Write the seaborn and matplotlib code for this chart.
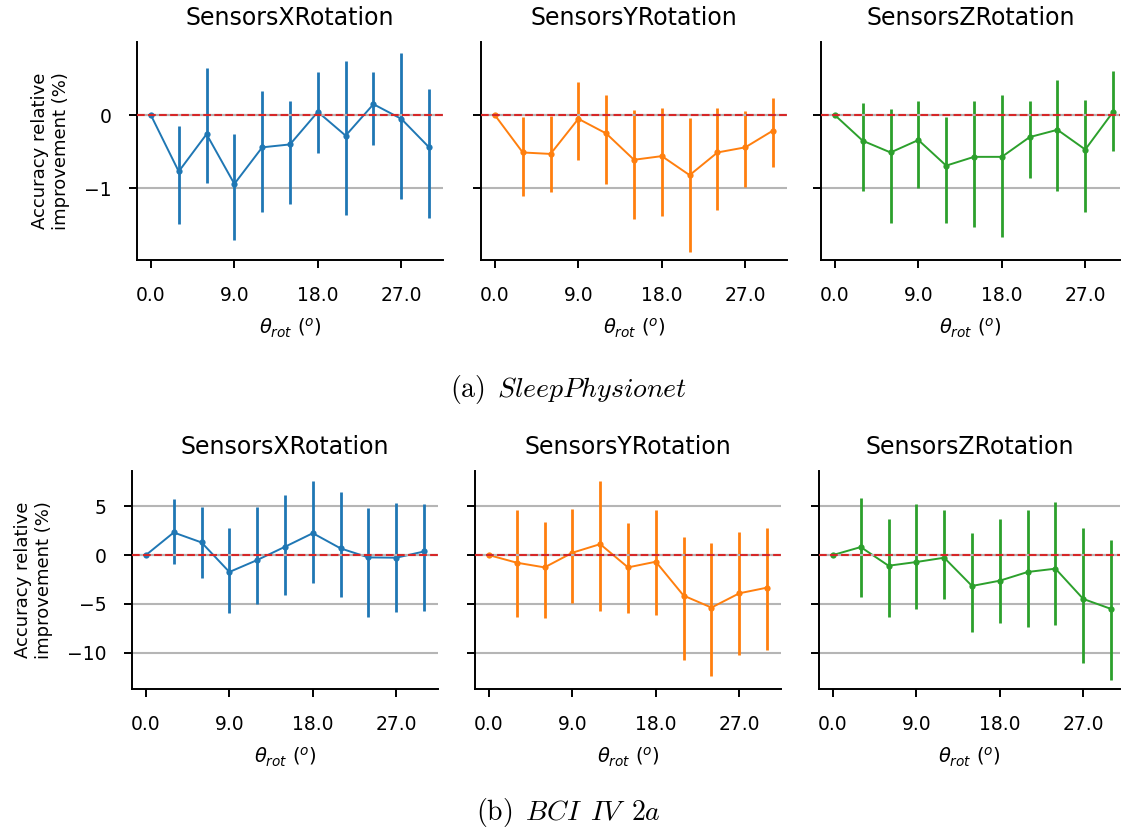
import matplotlib.pyplot as plt
import seaborn as sns

# rotation angles (degrees) and the three transforms
angles = [0, 3, 6, 9, 12, 15, 18, 21, 24, 27, 30]
transforms = ['SensorsXRotation', 'SensorsYRotation', 'SensorsZRotation']
colors = ['#1f77b4', '#ff7f0e', '#2ca02c']

# (a) SleepPhysionet : median + error bar limits
sleep_x_mean = [0, -0.77, -0.26, -0.94, -0.44, -0.40, 0.045, -0.28, 0.15, -0.05, -0.44]
sleep_x_low = [0, -1.49, -0.93, -1.70, -1.32, -1.21, -0.52, -1.36, -0.41, -1.15, -1.40]
sleep_x_high = [0, -0.15, 0.65, -0.26, 0.33, 0.20, 0.59, 0.74, 0.59, 0.85, 0.36]

sleep_y_mean = [0, -0.51, -0.53, -0.05, -0.25, -0.61, -0.56, -0.82, -0.51, -0.44, -0.21]
sleep_y_low = [0, -1.11, -1.05, -0.61, -0.94, -1.42, -1.38, -1.87, -1.30, -0.98, -0.71]
sleep_y_high = [0, -0.03, -0.01, 0.45, 0.28, 0.07, 0.10, -0.04, 0.10, 0.05, 0.24]

sleep_z_mean = [0, -0.35, -0.51, -0.34, -0.69, -0.57, -0.57, -0.30, -0.20, -0.47, 0.045]
sleep_z_low = [0, -1.04, -1.47, -0.99, -1.48, -1.53, -1.67, -0.86, -1.04, -1.32, -0.49]
sleep_z_high = [0, 0.17, 0.09, 0.20, -0.03, 0.20, 0.27, 0.19, 0.48, 0.21, 0.60]

# (b) BCI IV 2a
bci_x_mean = [0, 2.31, 1.29, -1.73, -0.51, 0.85, 2.24, 0.68, -0.24, -0.27, 0.37]
bci_x_low = [0, -0.92, -2.31, -5.88, -5.03, -4.08, -2.82, -4.29, -6.29, -5.78, -5.68]
bci_x_high = [0, 5.78, 4.93, 2.72, 4.93, 6.12, 7.55, 6.46, 4.86, 5.34, 5.20]

bci_y_mean = [0, -0.78, -1.26, 0.24, 1.12, -1.26, -0.68, -4.15, -5.37, -3.91, -3.33]
bci_y_low = [0, -6.29, -6.46, -4.93, -5.68, -5.95, -6.09, -10.71, -12.35, -10.27, -9.69]
bci_y_high = [0, 4.59, 3.40, 4.76, 7.55, 3.23, 4.66, 1.80, 1.19, 2.31, 2.72]

bci_z_mean = [0, 0.82, -1.09, -0.71, -0.27, -3.16, -2.62, -1.73, -1.39, -4.49, -5.51]
bci_z_low = [0, -4.25, -6.33, -5.54, -4.46, -7.82, -6.90, -7.31, -7.14, -10.99, -12.79]
bci_z_high = [0, 5.88, 3.74, 5.20, 4.66, 2.28, 3.67, 4.66, 5.48, 2.79, 1.50]

sns.set_style('ticks')
plt.rcParams['font.family'] = ['DejaVu Sans']
plt.rcParams['axes.linewidth'] = 1.4
plt.rcParams['xtick.major.width'] = 1.4
plt.rcParams['ytick.major.width'] = 1.4
plt.rcParams['xtick.major.size'] = 6
plt.rcParams['ytick.major.size'] = 6
plt.rcParams['xtick.major.pad'] = 12.5
plt.rcParams['ytick.major.pad'] = 12.5
for k in ['xtick.color', 'ytick.color', 'axes.edgecolor', 'text.color', 'axes.labelcolor']:
    plt.rcParams[k] = 'black'

W, H = 1121, 838
fig = plt.figure(figsize=(W / 100, H / 100), dpi=100)


def box(left, top, width=306, height=218):
    return [left / W, 1 - (top + height) / H, width / W, height / H]


rows = [
    dict(lefts=[137, 481, 821], top=42, ylim=(-1.98, 1.0), yticks=[-1, 0],
         series=[(sleep_x_mean, sleep_x_low, sleep_x_high),
                 (sleep_y_mean, sleep_y_low, sleep_y_high),
                 (sleep_z_mean, sleep_z_low, sleep_z_high)],
         caption=r'$\mathrm{(a)}\ \,\mathit{SleepPhysionet}$', cap_y=389),
    dict(lefts=[132, 475, 819], top=471, ylim=(-13.7, 8.6), yticks=[-10, -5, 0, 5],
         series=[(bci_x_mean, bci_x_low, bci_x_high),
                 (bci_y_mean, bci_y_low, bci_y_high),
                 (bci_z_mean, bci_z_low, bci_z_high)],
         caption=r'$\mathrm{(b)}\ \,\mathit{BCI}\ \,\mathit{IV}\ \,\mathit{2a}$', cap_y=812),
]

for row in rows:
    for j in range(3):
        left = row['lefts'][j]
        width = min(306, 1120 - left)
        ax = fig.add_axes(box(left, row['top'], width))
        mean, low, high = row['series'][j]
        c = colors[j]
        ax.yaxis.grid(True, color='#b5b5b5', lw=1.5)
        ax.set_axisbelow(True)
        ax.vlines(angles, low, high, color=c, lw=2, zorder=2)
        sns.lineplot(x=angles, y=mean, color=c, marker='o', markersize=4.5,
                     markeredgewidth=0, linewidth=1.4, ax=ax, zorder=3)
        ax.axhline(0, color='#b5b5b5', lw=1.5, zorder=4)
        ax.axhline(0, color='#d62728', ls='--', lw=1.5, zorder=5)
        ax.set_xlim(-1.5, -1.5 + 33 * width / 306)
        ax.set_ylim(*row['ylim'])
        ax.set_xticks([0, 9, 18, 27])
        ax.set_xticklabels(['0.0', '9.0', '18.0', '27.0'])
        ax.set_yticks(row['yticks'])
        ax.tick_params(labelsize=13.5)
        if j > 0:
            ax.set_yticklabels([])
        else:
            ax.set_ylabel('Accuracy relative\nimprovement (%)', fontsize=13, labelpad=10)
        ax.set_xlabel(r'$\theta_{rot}\ (^o)$', fontsize=14, labelpad=9)
        ax.set_title(transforms[j], fontsize=17, pad=12)
        sns.despine(ax=ax)
    fig.text(568 / W, 1 - row['cap_y'] / H, row['caption'], ha='center', va='center',
             fontsize=20, math_fontfamily='cm')

fig.savefig('out.png', dpi=100)
